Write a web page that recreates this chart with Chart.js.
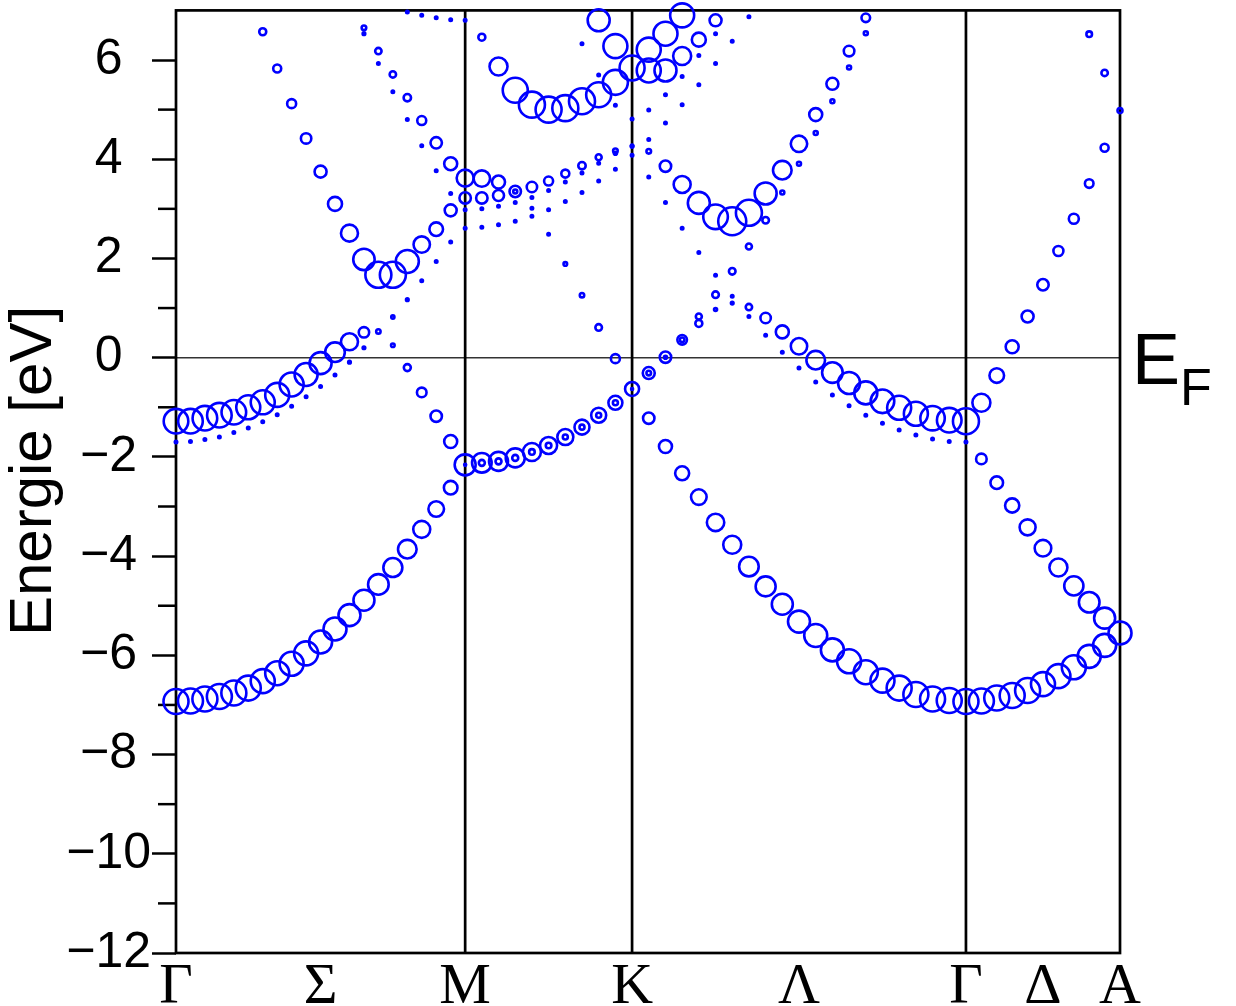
<!DOCTYPE html>
<html><head><meta charset="utf-8">
<script src="https://cdn.jsdelivr.net/npm/chart.js@4/dist/chart.umd.min.js"></script>
<style>html,body{margin:0;padding:0;background:#fff;}#wrap{width:1236px;height:1006px;}</style>
</head><body><div id="wrap"><canvas id="c" width="1236" height="1006"></canvas></div>
<script>
// k-points along the path Γ–M–K–Γ–A
const kPath = [0.0000,0.0289,0.0577,0.0866,0.1155,0.1443,0.1732,0.2021,0.2309,0.2598,0.2887,0.3175,0.3464,0.3753,0.4041,0.4330,0.4619,0.4907,0.5196,0.5485,0.5774,
0.6107,0.6440,0.6774,0.7107,0.7440,0.7774,0.8107,0.8440,0.8774,0.9107,
0.9440,0.9774,1.0107,1.0440,1.0774,1.1107,1.1440,1.1774,1.2107,1.2440,1.2774,1.3107,1.3440,1.3774,1.4107,1.4440,1.4774,1.5107,1.5440,1.5774,
1.6082,1.6389,1.6697,1.7005,1.7312,1.7620,1.7928,1.8235,1.8543,1.8850];
const pathLabels = ['Γ','Σ','M','K','Λ','Γ','Δ','A'];
const pathLabelK = [0, 0.2887, 0.5774, 0.9107, 1.2440, 1.5774, 1.7312, 1.8850];
const symmetryLinesK = [0.5774, 0.9107, 1.5774];
const yTickValues = [-12,-10,-8,-6,-4,-2,0,2,4,6];
const yMinorTicks = [-11,-9,-7,-5,-3,-1,1,3,5];
const fermiLevel = 0;

// bands: start index into kPath, energies (eV), marker radii (weights)
const b1Start = 0;
const b1E = [-6.93,-6.92,-6.88,-6.83,-6.76,-6.66,-6.52,-6.36,-6.17,-5.96,-5.73,-5.47,-5.19,-4.89,-4.57,-4.23,-3.86,-3.46,-3.05,-2.62];
const b1R = [12.5,12.5,12.5,12.5,12.5,12.5,12,12,12,12,11.5,11.5,11,10.5,10.3,9.5,9.3,8.5,7.8,6.8];

const b2Start = 20;
const b2E = [-2.16,-2.12,-2.09,-2.02,-1.90,-1.77,-1.60,-1.40,-1.16,-0.91,-0.63];
const b2R = [10.5,9.8,9.5,9.5,9,8.5,8,7.5,7.5,7,7];
const b2InnerR = [1,3,3,3,2.8,2.8,2.5,2.5,2.5,2.5,1];

const b3Start = 31;
const b3E = [-1.22,-1.79,-2.33,-2.81,-3.32,-3.77,-4.21,-4.61,-4.97,-5.32,-5.60,-5.89,-6.12,-6.34,-6.51,-6.66,-6.79,-6.88,-6.91,-6.93];
const b3R = [5.7,6.5,7,7.8,8.7,9,9.8,10,10.5,11,11.5,11.5,12,12,12,12.5,12.5,12.5,12.5,12.5];

const b4Start = 51;
const b4E = [-6.92,-6.86,-6.81,-6.71,-6.58,-6.42,-6.24,-6.02,-5.80,-5.55];
const b4R = [12.5,12.5,12.5,12.5,12,12,12,11.5,11.5,11.5];

const b5Start = 51;
const b5E = [-2.04,-2.52,-2.98,-3.42,-3.84,-4.23,-4.60,-4.93,-5.25];
const b5R = [5.3,6.3,7.1,8,8.3,9,9.6,10.3,10.5];

const b6Start = 51;
const b6E = [-0.91,-0.36,0.22,0.83,1.47,2.15,2.80,3.51,4.23,4.98];
const b6R = [9,7.3,6.5,6,5.7,5,5,4.3,4,2.5];

const b7Start = 58;
const b7E = [6.52,5.74];
const b7R = [2.8,3.2];

const b8Start = 0;
const b8E = [-1.28,-1.28,-1.22,-1.16,-1.10,-1.00,-0.90,-0.75,-0.54,-0.34,-0.11,0.11,0.32,0.51,null,0.25,-0.20,-0.70,-1.18,-1.69];
const b8R = [12.3,12.3,12.3,12.3,12.3,12,12,12,12,11.5,11,9.8,8.5,5.2,0,1.8,3.5,4.8,5.7,6.5];

const b9Start = 31;
const b9E = [-0.31,0.01,0.36,0.69,0.97,1.10,1.02,0.80,0.52,0.23,-0.05,-0.30,-0.51,-0.71,-0.88,-1.01,-1.13,-1.22,-1.26,-1.28];
const b9R = [6,5.7,4.8,3.5,1.5,1.3,3.2,5.2,6.5,8.2,9.3,10.3,11,11.5,11.8,12,12,12.2,12.3,13];

const b10Start = 31;
const b10E = [-0.31,0.01,0.36,0.83,1.27,1.74,2.24,2.77,3.33,3.91,4.53,5.17,5.85,6.54];
const b10R = [2.3,1.5,2.3,3,3.3,3.3,3,3.3,2,2,2,2,2,2];

const b11Start = 31;
const b11E = [4.16,3.86,3.49,3.12,2.84,2.75,2.92,3.31,3.78,4.31,4.90,5.52,6.18,6.85];
const b11R = [2.3,5.7,8.5,11,12.3,14,13,11,9.3,8.2,6.5,6,5.3,4.3];

const b12Start = 0;
const b12E = [-1.70,-1.69,-1.65,-1.60,-1.51,-1.42,-1.29,-1.15,-0.98,-0.79,-0.58,-0.35,-0.09,0.20,0.53,0.82,1.17,1.55,1.94,2.33,
2.61,2.63,2.68,2.75,2.85,2.98,3.15,3.33,3.56,3.80,
4.08,3.64,3.13,2.61,2.12,1.66,1.24,0.83,0.45,0.11,-0.21,-0.49,-0.75,-0.97,-1.16,-1.32,-1.46,-1.56,-1.64,-1.69,-1.70];
const b12R = [1.2,1.2,1.2,1.2,1.2,1.2,1.2,1.2,1.2,1.2,1.2,1.2,1.3,1.3,2.2,1.6,1.3,1.2,1.2,1.2,
1.2,1.2,1.2,1.2,1.2,1.2,1.2,1.2,1.2,1.2,
1.2,1.2,1.2,1.2,1.2,1.2,1.2,1.2,1.2,1.2,1.2,1.2,1.2,1.2,1.2,1.2,1.2,1.2,1.2,1.2,1.2];

const b13Start = 13;
const b13E = [6.53,5.93,5.36,4.80,4.27,3.77,3.31,2.98,3.00,3.05,3.13,3.23,3.37,3.54,3.72,3.92,4.12,4.27,4.40,4.73,5.10,5.50,5.93,6.38,6.87];
const b13R = [1.3,1.2,1.2,1.2,1.2,1.2,1.2,1.2,1.2,1.2,1.2,1.2,1.2,1.2,1.2,1.2,1.5,1.2,1.2,1.2,1.2,1.2,1.2,1.2,1.2];

const b14Start = 27;
const b14E = [6.33,5.70,5.09,4.81,4.99,5.30,5.67,6.09,6.53];
const b14R = [1.2,1.2,1.2,1.2,1.2,1.2,1.2,1.2,1.2];

const b15Start = 13;
const b15E = [6.65,6.18,5.71,5.24,4.78,4.33,3.91,3.62,3.61,3.54,3.35,3.01,2.49,1.89,1.26,0.61,-0.02];
const b15R = [2.3,3.2,3.2,3.7,4.5,5.7,6.5,8.5,8.2,6.5,2.0,1.2,1.2,1.8,2.2,3.3,4.5];

const b16Start = 6;
const b16E = [6.57,5.83,5.12,4.42,3.75,3.10,2.51,1.98,1.67,1.67,1.94,2.28,2.59,2.97,3.22,3.22,3.27,3.35,3.44,3.56,3.71,3.87,4.04,4.17,4.26];
const b16R = [3.5,4,4.5,5.2,6,7,8.5,10.7,13,13,11.5,8.2,6.8,6,5.7,5.7,5.5,5.7,5.2,4.5,4,3.7,3,2.3,1.3];

const b17Start = 16;
const b17E = [6.97,6.90,6.85,6.81,6.80];
const b17R = [1.2,1.2,1.2,1.2,1.2];

const b18Start = 21;
const b18E = [6.46,5.87,5.39,5.10,5.00,5.03,5.17,5.30,5.55,5.84];
const b18R = [3.5,9,12.5,13,13,13,13,12.5,12.5,12.5];

const b19Start = 28;
const b19E = [6.80,6.28];
const b19R = [11,12];

const b20Start = 31;
const b20E = [6.21,6.53,6.90];
const b20R = [12,12,12];

const b21Start = 31;
const b21E = [5.79,5.79,6.08,6.41,6.80];
const b21R = [12,11,9,7,6];

const bands = [
  [b1Start,b1E,b1R],[b2Start,b2E,b2R],[b2Start,b2E,b2InnerR],[b3Start,b3E,b3R],[b4Start,b4E,b4R],
  [b5Start,b5E,b5R],[b6Start,b6E,b6R],[b7Start,b7E,b7R],[b8Start,b8E,b8R],[b9Start,b9E,b9R],
  [b10Start,b10E,b10R],[b11Start,b11E,b11R],[b12Start,b12E,b12R],[b13Start,b13E,b13R],[b14Start,b14E,b14R],
  [b15Start,b15E,b15R],[b16Start,b16E,b16R],[b17Start,b17E,b17R],[b18Start,b18E,b18R],[b19Start,b19E,b19R],
  [b20Start,b20E,b20R],[b21Start,b21E,b21R]
];

const BLUE = '#0000ff';
const datasets = bands.map(([s,E,R]) => {
  const data = [], radii = [];
  E.forEach((e,i) => { if (e !== null) { data.push({x: kPath[s+i], y: e}); radii.push(R[i]); } });
  return {data, pointRadius: radii, pointHoverRadius: radii, pointBorderColor: BLUE,
    pointBackgroundColor: 'rgba(0,0,0,0)', pointBorderWidth: 2.6, pointHoverBorderWidth: 2.6,
    showLine: false, clip: false};
});

const noPad = () => ({left: 0, top: 0, right: 0, bottom: 0});

const decor = {
  id: 'decor',
  beforeDatasetsDraw(chart) {
    const {ctx, chartArea: a, scales: {x, y}} = chart;
    ctx.save();
    const y0 = y.getPixelForValue(fermiLevel);
    ctx.strokeStyle = '#333'; ctx.lineWidth = 1.5;
    ctx.beginPath(); ctx.moveTo(a.left, y0); ctx.lineTo(a.right, y0); ctx.stroke();
    ctx.strokeStyle = '#000'; ctx.lineWidth = 2.7;
    symmetryLinesK.forEach(k => { const px = x.getPixelForValue(k);
      ctx.beginPath(); ctx.moveTo(px, a.top); ctx.lineTo(px, a.bottom); ctx.stroke(); });
    ctx.strokeRect(a.left, a.top, a.right - a.left, a.bottom - a.top);
    ctx.lineWidth = 2.5;
    yMinorTicks.forEach(v => { const py = y.getPixelForValue(v);
      ctx.beginPath(); ctx.moveTo(a.left - 18, py); ctx.lineTo(a.left, py); ctx.stroke(); });
    ctx.restore();
  },
  afterDraw(chart) {
    const {ctx, chartArea: a, scales: {y}} = chart;
    ctx.save();
    ctx.fillStyle = '#000';
    ctx.font = '60px "Liberation Sans", Arial, sans-serif';
    ctx.translate(51, 471); ctx.rotate(-Math.PI/2);
    ctx.textAlign = 'center'; ctx.textBaseline = 'alphabetic';
    ctx.fillText('Energie [eV]', 0, 0);
    ctx.restore();
    ctx.save();
    const y0 = y.getPixelForValue(fermiLevel);
    ctx.fillStyle = '#000'; ctx.textAlign = 'left'; ctx.textBaseline = 'alphabetic';
    ctx.font = '72px "Liberation Sans", Arial, sans-serif';
    ctx.fillText('E', a.right + 12, y0 + 26);
    ctx.font = '52px "Liberation Sans", Arial, sans-serif';
    ctx.fillText('F', a.right + 60, y0 + 47);
    ctx.restore();
  }
};

new Chart(document.getElementById('c'), {
  type: 'scatter',
  data: {datasets},
  plugins: [decor],
  options: {
    responsive: false, animation: false, devicePixelRatio: 1,
    layout: {autoPadding: false, padding: {top: 10.4, right: 116, bottom: 0, left: 0}},
    plugins: {legend: {display: false}, tooltip: {enabled: false}},
    scales: {
      x: {
        type: 'linear', min: 0, max: 1.885,
        afterBuildTicks: s => { s.ticks = pathLabelK.map(v => ({value: v})); },
        afterFit: s => { s.height = 53; s.paddingLeft = 0; s.paddingRight = 0; s.paddingTop = 0; s.paddingBottom = 0; s.getPadding = noPad; },
        grid: {display: false, drawTicks: false},
        border: {display: false},
        ticks: {autoSkip: false, maxRotation: 0, padding: 0, color: '#000',
          font: {family: '"Liberation Serif", "DejaVu Serif", serif', size: 58},
          callback: (v, i) => pathLabels[i]}
      },
      y: {
        min: -12, max: 7,
        afterBuildTicks: s => { s.ticks = yTickValues.map(v => ({value: v})); },
        afterFit: s => { s.width = 176; s.paddingTop = 0; s.paddingBottom = 0; s.paddingLeft = 0; s.paddingRight = 0; s.getPadding = noPad; },
        grid: {drawOnChartArea: false, drawTicks: true, tickLength: 24, tickWidth: 2.5, tickColor: '#000'},
        border: {display: false},
        ticks: {padding: 1, color: '#000', crossAlign: 'center',
          font: {family: '"Liberation Sans", Arial, sans-serif', size: 50},
          callback: v => v < 0 ? '\u2212' + Math.abs(v) : String(v)}
      }
    }
  }
});
</script></body></html>
